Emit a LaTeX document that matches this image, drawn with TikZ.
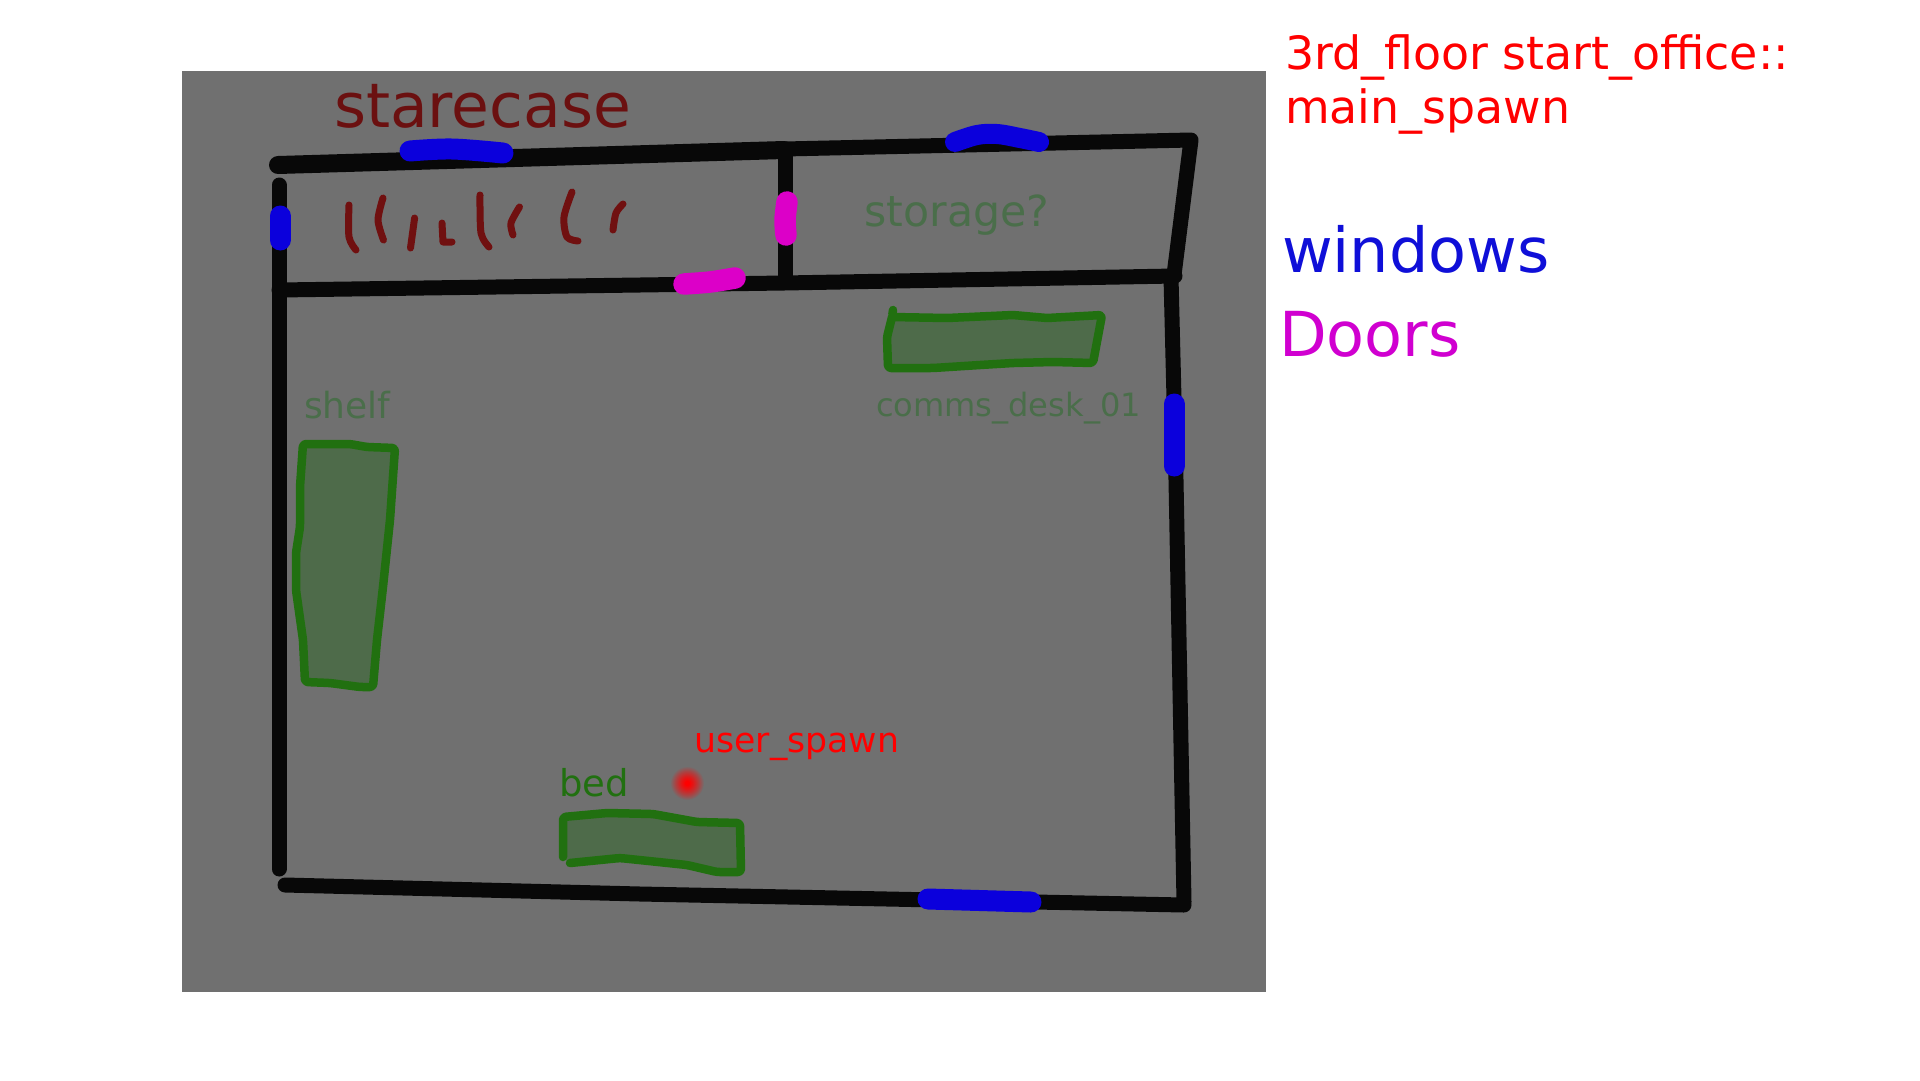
\documentclass[tikz,border=0pt]{standalone}
\usepackage{fontspec}
\setmainfont{DejaVu Sans}
\definecolor{floorgrey}{HTML}{707070}
\definecolor{wallblack}{HTML}{080808}
\definecolor{winblue}{HTML}{0B00DC}
\definecolor{doormag}{HTML}{DC00C8}
\definecolor{stairred}{HTML}{701010}
\definecolor{furnline}{HTML}{217010}
\definecolor{furnfill}{HTML}{4E6B4A}
\definecolor{dimgreen}{HTML}{4A6E4A}
\definecolor{legblue}{HTML}{0F0FD8}
\definecolor{legmag}{HTML}{D000D0}
\definecolor{stairtext}{HTML}{6B1010}
\pgfdeclareradialshading{spawnglow}{\pgfpointorigin}{color(0bp)=(red); color(3bp)=(red); color(9bp)=(red!78!floorgrey); color(17bp)=(red!42!floorgrey); color(25bp)=(floorgrey); color(50bp)=(floorgrey)}
\newcommand{\fsz}[1]{\fontsize{#1}{#1}\selectfont}
\tikzset{
  wall/.style={draw=wallblack,line width=15pt,line cap=round,line join=round},
  winmark/.style={draw=winblue,line width=21pt,line cap=round,line join=round},
  doormark/.style={draw=doormag,line width=21.5pt,line cap=round,line join=round},
  stairmark/.style={draw=stairred,line width=7pt,line cap=round,line join=round},
  furn/.style={draw=furnline,line width=8.5pt,line cap=round,line join=round,rounded corners=3pt},
  lbl/.style={anchor=base west,inner sep=0pt,outer sep=0pt}
}
\begin{document}
\begin{tikzpicture}[x=1pt,y=-1pt]
\useasboundingbox (0,0) rectangle (1920,1080);
\fill[white] (0,0) rectangle (1920,1080);
\fill[floorgrey] (182,71) rectangle (1266,992);
% walls
\draw[wall,line width=18pt] (278,165) -- (784,150);
\draw[wall] (784,149) -- (1191,140) -- (1174,275);
\draw[wall] (279,185) -- (279,869);
\draw[wall] (279,290) -- (784,283) -- (1175,276);
\draw[wall] (785,150) -- (785,281);
\draw[wall] (1171,277) -- (1176,480) -- (1184,902);
\draw[wall] (285,885) -- (640,894) -- (1184,905);
% windows
\draw[winmark] plot[smooth,tension=0.6] coordinates {(410,151) (452,149) (503,153)};
\draw[winmark,line width=21pt] (280,216) -- (280,240);
\draw[winmark,line width=20pt] plot[smooth,tension=0.6] coordinates {(955,142) (977,135) (997,134) (1020,138) (1039,142)};
\draw[winmark] (1174,404) -- (1174,466);
\draw[winmark] (928,899) -- (1031,902);
% doors
\draw[doormark] plot[smooth] coordinates {(787,202) (785,220) (786,235)};
\draw[doormark] plot[smooth] coordinates {(684,284) (710,282) (735,278)};
% stairs
\draw[stairmark] plot[smooth] coordinates {(349,205) (349,237) (356,250)};
\draw[stairmark] plot[smooth] coordinates {(383,198) (378,220) (383.5,240)};
\draw[stairmark] (414.6,218) -- (410.5,248);
\draw[stairmark] (442,223) -- (443,242) -- (452,242);
\draw[stairmark] plot[smooth] coordinates {(480,195) (481,233) (489,247)};
\draw[stairmark] plot[smooth] coordinates {(519.5,207) (511,223) (513,235)};
\draw[stairmark] plot[smooth] coordinates {(572,192) (564,217) (567,237) (578,241)};
\draw[stairmark] plot[smooth] coordinates {(623,204) (616,213) (613,230)};
% furniture
\filldraw[furn,fill=furnfill] (893,310) -- (892,317) -- (947,318) -- (1013,315) -- (1047,318) -- (1102,315) -- (1093,363) -- (1053,362) -- (1013,363) -- (980,365) -- (933,368) -- (888,368) -- (887,337) -- (892,317);
\filldraw[furn,fill=furnfill] (303,444) -- (350,444) -- (367,447) -- (395,448) -- (390,520) -- (383,587) -- (377,640) -- (373,687) -- (360,687) -- (330,683) -- (305,682) -- (303,640) -- (296,590) -- (296,553) -- (300,527) -- (300,487) -- cycle;
\fill[furnfill] (563,857) -- (563,817) -- (607,813) -- (653,814) -- (697,822) -- (740,823) -- (741,872) -- (717,872) -- (687,865) -- (620,858) -- (570,863) -- cycle;
\draw[furn] (563,857) -- (563,817) -- (607,813) -- (653,814) -- (697,822) -- (740,823) -- (741,872) -- (717,872) -- (687,865) -- (620,858) -- (570,863);
% spawn
\path[shading=spawnglow] (687,783) circle (17pt);
% labels
\node[lbl,text=stairtext] (starecase) at (334,127.5) {\fsz{61.5}starecase};
\node[lbl,text=red] (title1) at (1285,69) {\fsz{45.85}3rd\_floor start\_office::};
\node[lbl,text=red] (title2) at (1285,123) {\fsz{45.85}main\_spawn};
\node[lbl,text=legblue] (windows) at (1282,272) {\fsz{62}windows};
\node[lbl,text=legmag] (doors) at (1279,356) {\fsz{62}Doors};
\node[lbl,text=dimgreen] (storage) at (864.5,226) {\fsz{42.7}storage?};
\node[lbl,text=dimgreen] (comms) at (876,416.5) {\fsz{32.1}comms\_desk\_01};
\node[lbl,text=dimgreen] (shelf) at (304,418) {\fsz{36}shelf};
\node[lbl,text=furnline] (bed) at (559,796) {\fsz{37}bed};
\node[lbl,text=red] (spawn) at (694.5,752) {\fsz{34.7}user\_spawn};
\end{tikzpicture}
\end{document}
